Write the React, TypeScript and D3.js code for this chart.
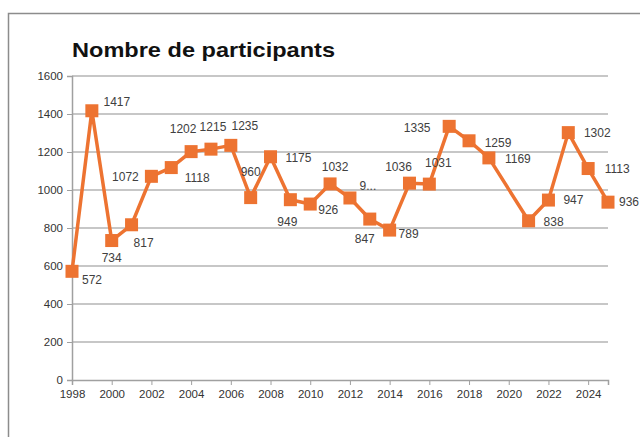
import React, { useRef, useEffect } from 'react';
import * as d3 from 'd3';

// 2020: no edition, so no point
const years = [1998, 1999, 2000, 2001, 2002, 2003, 2004, 2005, 2006, 2007, 2008, 2009, 2010, 2011, 2012, 2013, 2014, 2015, 2016, 2017, 2018, 2019, 2021, 2022, 2023, 2024, 2025];
const participants = [572, 1417, 734, 817, 1072, 1118, 1202, 1215, 1235, 960, 1175, 949, 926, 1032, 958, 847, 789, 1036, 1031, 1335, 1259, 1169, 838, 947, 1302, 1113, 936];
const labels = ['572', '1417', '734', '817', '1072', '1118', '1202', '1215', '1235', '960', '1175', '949', '926', '1032', '9...', '847', '789', '1036', '1031', '1335', '1259', '1169', '838', '947', '1302', '1113', '936'];
const yTicks = [0, 200, 400, 600, 800, 1000, 1200, 1400, 1600];
const xTicks = [1998, 2000, 2002, 2004, 2006, 2008, 2010, 2012, 2014, 2016, 2018, 2020, 2022, 2024];

// label offsets from the marker centre (dx, dy)
const labelOffsets: [number, number][] = [
    [20, 8], [25, -9], [0, 17], [12, 18], [-26, 0], [26, 10], [-8, -23], [2, -22], [14, -20],
    [0, -26], [28, 1], [-3, 22], [18, 6], [5, -17], [18, -12], [-5, 20], [19, 4], [-11, -16],
    [9, -21], [-32, 1], [29, 2], [29, 1], [25, 1], [25, 0], [29, 0], [29, 0], [21, 0],
];

const ORANGE = '#ed7331';

const App: React.FC = () => {
    const svgRef = useRef<SVGSVGElement | null>(null);

    useEffect(() => {
        if (!svgRef.current) return;
        const width = 640;
        const height = 437;
        const margin = { top: 76, right: 32, bottom: 57, left: 72 };

        const x = d3.scaleLinear().domain([1998, 2025]).range([margin.left, width - margin.right]);
        const y = d3.scaleLinear().domain([0, 1600]).range([height - margin.bottom, margin.top]);

        const svg = d3.select(svgRef.current);
        svg.selectAll('*').remove();

        // frame
        svg.append('path')
            .attr('d', `M8.5,${height} V13.5 H${width}`)
            .attr('fill', 'none')
            .attr('stroke', '#8c8c8c')
            .attr('stroke-width', 1.5);

        // title
        svg.append('text')
            .attr('x', 72)
            .attr('y', 57)
            .attr('font-family', 'Liberation Sans, Arial, sans-serif')
            .attr('font-weight', 'bold')
            .attr('font-size', 21)
            .attr('fill', '#111')
            .attr('textLength', 263)
            .attr('lengthAdjust', 'spacingAndGlyphs')
            .text('Nombre de participants');

        // gridlines
        svg.append('g')
            .selectAll('line')
            .data(yTicks.filter(t => t > 0))
            .join('line')
            .attr('x1', margin.left)
            .attr('x2', width - margin.right)
            .attr('y1', d => y(d))
            .attr('y2', d => y(d))
            .attr('stroke', '#b4b4b4')
            .attr('stroke-width', 1.6);

        // y axis
        const yAxis = svg.append('g')
            .attr('transform', `translate(${margin.left},0)`)
            .call(d3.axisLeft(y).tickValues(yTicks).tickSize(5).tickPadding(4).tickFormat(d3.format('d')));
        yAxis.select('.domain').attr('stroke', '#a0a0a0').attr('stroke-width', 1.5);
        yAxis.selectAll('.tick line').attr('stroke', '#a0a0a0');

        // x axis
        const xAxis = svg.append('g')
            .attr('transform', `translate(0,${y(0)})`)
            .call(d3.axisBottom(x).tickValues(xTicks).tickSize(5).tickPadding(5).tickFormat(d3.format('d')));
        xAxis.select('.domain').attr('stroke', '#a0a0a0').attr('stroke-width', 1.5);
        xAxis.selectAll('.tick line').attr('stroke', '#a0a0a0');

        svg.selectAll('.tick text')
            .attr('font-family', 'Liberation Sans, Arial, sans-serif')
            .attr('font-size', 11.5)
            .attr('fill', '#333');

        const pts = years.map((yr, i) => ({ yr, v: participants[i], label: labels[i], off: labelOffsets[i] }));

        const line = d3.line<{ yr: number; v: number }>()
            .x(d => x(d.yr))
            .y(d => y(d.v));

        svg.append('path')
            .datum(pts)
            .attr('d', line)
            .attr('fill', 'none')
            .attr('stroke', ORANGE)
            .attr('stroke-width', 3.5)
            .attr('stroke-linejoin', 'round');

        const s = 13;
        svg.append('g')
            .selectAll('rect')
            .data(pts)
            .join('rect')
            .attr('x', d => x(d.yr) - s / 2)
            .attr('y', d => y(d.v) - s / 2)
            .attr('width', s)
            .attr('height', s)
            .attr('fill', ORANGE);

        svg.append('g')
            .selectAll('text')
            .data(pts)
            .join('text')
            .attr('x', d => x(d.yr) + d.off[0])
            .attr('y', d => y(d.v) + d.off[1])
            .attr('dy', '0.35em')
            .attr('text-anchor', 'middle')
            .attr('font-family', 'Liberation Sans, Arial, sans-serif')
            .attr('font-size', 12)
            .attr('fill', '#404040')
            .text(d => d.label);
    }, []);

    return (
        <svg
            ref={svgRef}
            width={640}
            height={437}
            style={{ position: 'absolute', left: 0, top: 0, background: '#fff' }}
        />
    );
};

export default App;
